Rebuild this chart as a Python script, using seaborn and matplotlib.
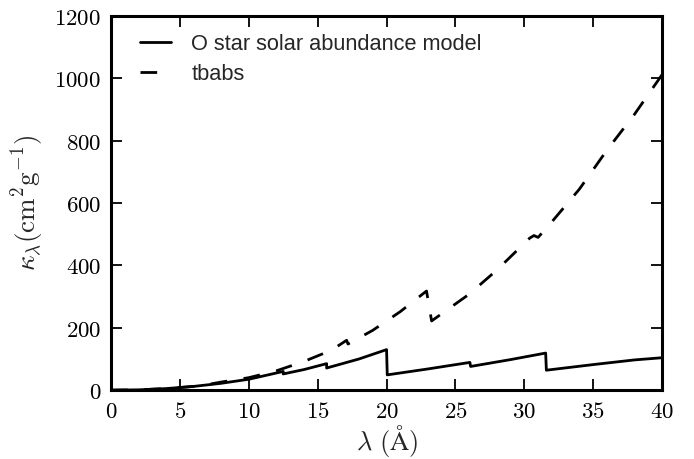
import matplotlib
matplotlib.use('Agg')
import matplotlib.pyplot as plt
import seaborn as sns
import pandas as pd
from matplotlib.ticker import FuncFormatter

# O star solar abundance model (edges drawn as repeated wavelengths)
ostar_wave = [0, 2, 4, 6, 8, 10, 12.5, 12.5, 14, 15.65, 15.65, 18, 20.0, 20.05,
              23, 26.05, 26.1, 29, 31.55, 31.6, 35, 38, 40]
ostar_kappa = [0, 1, 5, 12, 22, 35, 60, 52, 66, 85, 71, 100, 130, 49,
               68, 89, 76, 98, 119, 64, 82, 97, 104]

# tbabs
tbabs_wave = [0, 2, 4, 6, 7, 8, 10, 12, 14, 16, 17.1, 17.2, 19, 21, 22.9, 23.27,
              24, 26, 28, 30.4, 30.7, 31.0, 32, 34, 36, 38, 40]
tbabs_kappa = [0, 1, 5, 12, 18, 26, 40, 62, 92, 128, 160, 148, 192, 252, 318, 222,
               245, 308, 385, 488, 496, 490, 540, 645, 770, 885, 1012]

sns.set_style('ticks')
plt.rcParams['font.family'] = ['Liberation Sans', 'DejaVu Sans']
plt.rcParams['mathtext.fontset'] = 'cm'

df_o = pd.DataFrame({'wave': ostar_wave, 'kappa': ostar_kappa})
df_t = pd.DataFrame({'wave': tbabs_wave, 'kappa': tbabs_kappa})

fig = plt.figure(figsize=(6.94, 4.59), dpi=100)
ax = fig.add_axes([0.16, 0.15, 0.794, 0.815])

sns.lineplot(data=df_o, x='wave', y='kappa', sort=False, estimator=None,
             color='black', lw=2, ax=ax, label='O star solar abundance model')
sns.lineplot(data=df_t, x='wave', y='kappa', sort=False, estimator=None,
             color='black', lw=2, ax=ax, label='tbabs')
ax.lines[1].set_linestyle((0, (6, 6)))

ax.set_xlim(0, 40)
ax.set_ylim(0, 1200)
ax.set_xticks(range(0, 41, 5))
ax.set_yticks(range(0, 1201, 200))
fmt = FuncFormatter(lambda v, p: r'$%d$' % v)
ax.xaxis.set_major_formatter(fmt)
ax.yaxis.set_major_formatter(fmt)
ax.tick_params(direction='in', top=True, right=True, length=8, width=1.3,
               labelsize=16.5, colors='black')
ax.tick_params(axis='x', pad=7)
ax.tick_params(axis='y', pad=7)
for s in ax.spines.values():
    s.set_linewidth(2.2)
    s.set_color('black')
    s.set_visible(True)

ax.set_xlabel(r'$\lambda\ (\mathrm{\AA})$', fontsize=19, labelpad=0)
ax.set_ylabel(r'$\kappa_\lambda(\mathrm{cm^2g^{-1}})$', fontsize=19.5, labelpad=5)

leg = ax.legend(loc='upper left', bbox_to_anchor=(0.02, 1.0), frameon=False,
                fontsize=15.7, handlelength=1.45, handletextpad=0.93,
                borderaxespad=0.4, labelspacing=0.42)

fig.savefig('out.png', dpi=100)
